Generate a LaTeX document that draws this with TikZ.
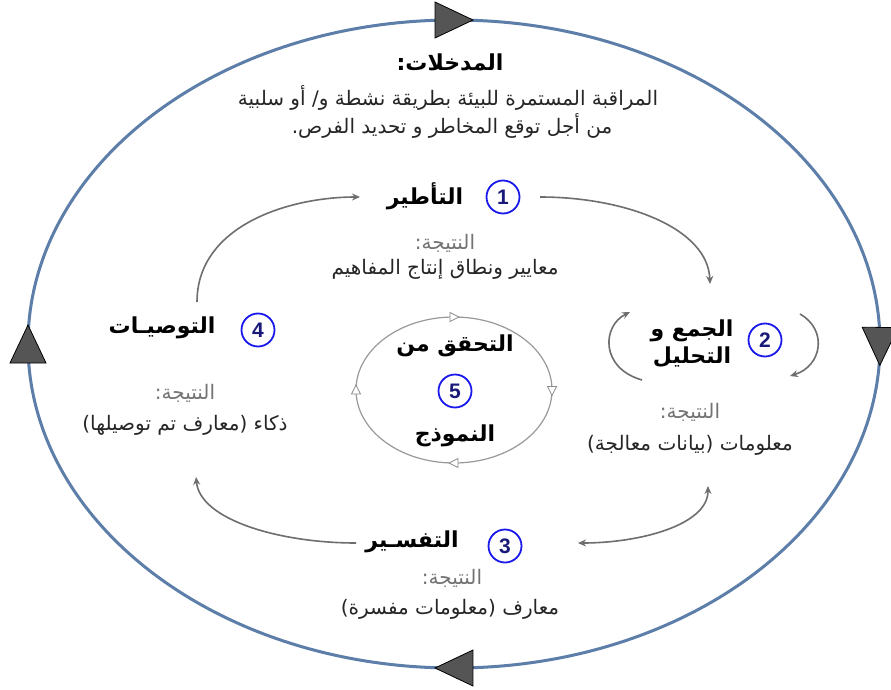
\documentclass[tikz,border=0pt]{standalone}
\usepackage{fontspec}
\usetikzlibrary{decorations.markings,arrows.meta}
\TeXXeTstate=1
\newfontfamily\arabicfont[Script=Arabic]{DejaVu Sans}
\newfontfamily\numfont{Liberation Sans}
\newcommand{\myrtl}[1]{\beginR #1\endR}
\definecolor{ringblue}{RGB}{92,126,168}
\definecolor{tri}{RGB}{85,85,85}
\definecolor{numblue}{RGB}{25,25,235}
\definecolor{numtext}{RGB}{25,25,120}
\definecolor{flowgray}{RGB}{110,110,110}
\tikzset{
  stagetitle/.style={font=\arabicfont\bfseries\fontsize{22}{26}\selectfont, inner sep=0pt, align=center},
  restitle/.style={font=\arabicfont\fontsize{20}{24}\selectfont, text=black!55, inner sep=0pt},
  restext/.style={font=\arabicfont\fontsize{20}{24}\selectfont, text=black!85, inner sep=0pt},
  numcircle/.style={circle, draw=numblue, line width=1.8pt, minimum size=33pt, inner sep=0pt,
    font=\numfont\bfseries\fontsize{21}{21}\selectfont, text=numtext},
  flow/.style={draw=flowgray, line width=1.6pt, -{Stealth[length=8pt,width=7pt]}},
  bigtri/.style={draw=black, fill=tri, line width=0.8pt},
  smalltri/.style={draw=black!45, fill=white, line width=0.8pt}
}
\begin{document}
\begin{tikzpicture}[x=1pt,y=-1pt]
\useasboundingbox (0,0) rectangle (891,690);
\fill[white] (0,0) rectangle (891,690);

% outer cycle
\draw[ringblue, line width=3pt, postaction={decorate}, decoration={markings,
  mark=at position 0.001 with {\draw[bigtri] (19,0) -- (-19,18) -- (-19,-18) -- cycle;},
  mark=at position 0.25 with {\draw[bigtri] (19,0) -- (-19,18) -- (-19,-18) -- cycle;},
  mark=at position 0.5 with {\draw[bigtri] (19,0) -- (-19,18) -- (-19,-18) -- cycle;},
  mark=at position 0.75 with {\draw[bigtri] (19,0) -- (-19,18) -- (-19,-18) -- cycle;}}]
  (454,344) ellipse [x radius=426, y radius=324];

% inputs
\node[stagetitle] (intitle) at (450,62) {\myrtl{المدخلات:}};
\node[restext] (inl1) at (448,98) {\myrtl{المراقبة المستمرة للبيئة بطريقة نشطة و/ أو سلبية}};
\node[restext] (inl2) at (452,126) {\myrtl{من أجل توقع المخاطر و تحديد الفرص.}};

% stage 1
\node[stagetitle] (t1) at (425,196) {\myrtl{التأطير}};
\node[numcircle] (n1) at (503,197) {1};
\node[restitle] (r1a) at (445,243) {\myrtl{النتيجة:}};
\node[restext] (r1b) at (445,269) {\myrtl{معايير ونطاق إنتاج المفاهيم}};

% stage 2
\node[stagetitle, font=\arabicfont\bfseries\fontsize{22}{27}\selectfont] (t2) at (692,344) {\myrtl{الجمع و}\\\myrtl{التحليل}};
\node[numcircle] (n2) at (765,340) {2};
\node[restitle] (r2a) at (690,412) {\myrtl{النتيجة:}};
\node[restext] (r2b) at (690,445) {\myrtl{معلومات (بيانات معالجة)}};

% stage 3
\node[stagetitle] (t3) at (412,542) {\myrtl{التفسـير}};
\node[numcircle] (n3) at (505,546) {3};
\node[restitle] (r3a) at (452,578) {\myrtl{النتيجة:}};
\node[restext] (r3b) at (450,609) {\myrtl{معارف (معلومات مفسرة)}};

% stage 4
\node[stagetitle] (t4) at (162,328) {\myrtl{التوصيـات}};
\node[numcircle] (n4) at (258,330) {4};
\node[restitle] (r4a) at (185,393) {\myrtl{النتيجة:}};
\node[restext] (r4b) at (185,425) {\myrtl{ذكاء (معارف تم توصيلها)}};

% stage 5 (validation loop)
\draw[black!40, line width=1.2pt, postaction={decorate}, decoration={markings,
  mark=at position 0.001 with {\draw[smalltri] (5,0) -- (-4,4.5) -- (-4,-4.5) -- cycle;},
  mark=at position 0.25 with {\draw[smalltri] (5,0) -- (-4,4.5) -- (-4,-4.5) -- cycle;},
  mark=at position 0.5 with {\draw[smalltri] (5,0) -- (-4,4.5) -- (-4,-4.5) -- cycle;},
  mark=at position 0.75 with {\draw[smalltri] (5,0) -- (-4,4.5) -- (-4,-4.5) -- cycle;}}]
  (454,390) ellipse [x radius=98, y radius=73];
\node[stagetitle] (t5a) at (455,346) {\myrtl{التحقق من}};
\node[numcircle] (n5) at (455,391) {5};
\node[stagetitle] (t5b) at (455,436) {\myrtl{النموذج}};

% connector end points
\coordinate (c4top) at (197,302);
\coordinate (c1left) at (360,197);
\coordinate (c1right) at (540,197);
\coordinate (c2top) at (710,284);
\coordinate (c2bot) at (708,486);
\coordinate (c3right) at (578,543);
\coordinate (c3left) at (356,543);
\coordinate (c4bot) at (196,477);
\coordinate (c2la) at (642,380);
\coordinate (c2lb) at (630,312);
\coordinate (c2ra) at (800,314);
\coordinate (c2rb) at (790,376);

% flow arrows
\draw[flow] (c4top) .. controls (197,225) and (290,197) .. (c1left);
\draw[flow] (c1right) .. controls (625,197) and (708,228) .. (c2top);
\draw[flow, {Stealth[length=8pt,width=7pt]}-{Stealth[length=8pt,width=7pt]}] (c2bot) .. controls (708,525) and (640,543) .. (c3right);
\draw[flow] (c3left) .. controls (280,543) and (200,520) .. (c4bot);
\draw[flow] (c2la) .. controls (600,368) and (602,326) .. (c2lb);
\draw[flow] (c2ra) .. controls (828,330) and (822,366) .. (c2rb);
\end{tikzpicture}
\end{document}
